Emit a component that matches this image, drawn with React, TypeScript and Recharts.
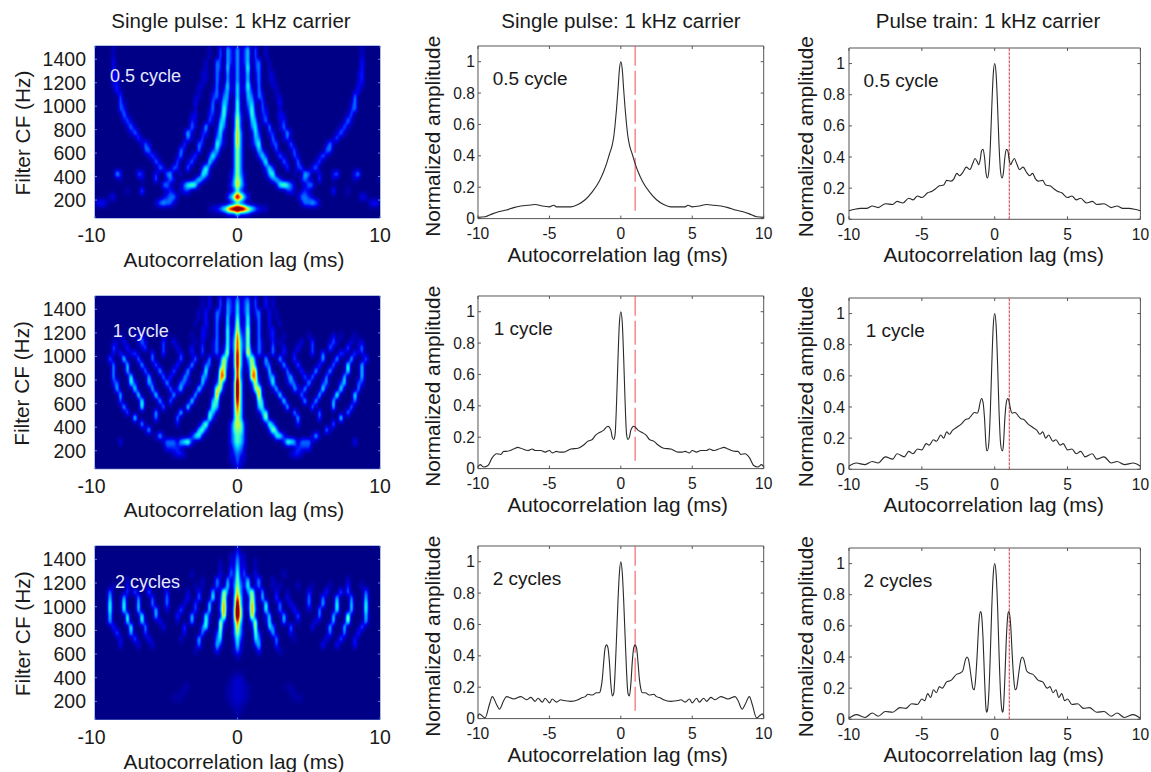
import React from "react";
import { LineChart, Line, ScatterChart, Scatter, XAxis, YAxis, ReferenceLine, ReferenceDot, ReferenceArea, Label } from "recharts";

const FONT = "'Liberation Sans', Arial, sans-serif";

const TITLES = ["Single pulse: 1 kHz carrier", "Single pulse: 1 kHz carrier", "Pulse train: 1 kHz carrier"];
const CYCLES = ["0.5 cycle", "1 cycle", "2 cycles"];
const X_LABEL = "Autocorrelation lag (ms)";
const HEAT_XTICKS = [-10, 0, 10];
const HEAT_YTICKS = [200, 400, 600, 800, 1000, 1200, 1400];
const LINE_XTICKS = [-10, -5, 0, 5, 10];
const LINE_YTICKS = [0, 0.2, 0.4, 0.6, 0.8, 1];

// Filter CF of each heatmap row, and digit rows covering lag 0..10 ms in 0.25 ms steps
const CF_ROWS = [1475,1425,1375,1325,1275,1225,1175,1125,1075,1025,975,925,875,825,775,725,675,625,575,525,475,425,375,325,275,225,175,125,75];

const HEAT_05 = [
"41240 30010 00000 00000 00000 00000 00000 10000 0",
"41240 30010 00000 00000 00000 00000 00000 10000 0",
"41240 23001 00000 00000 00000 00000 00000 20000 0",
"41150 23001 00000 00000 00000 00000 00000 20000 0",
"41140 13001 10000 00000 00000 00000 00001 20000 0",
"41140 13001 10000 00000 00000 00000 00001 20000 0",
"51151 03000 11000 00000 00000 00000 00002 10000 0",
"51142 03100 01000 00000 00000 00000 00012 00000 0",
"51043 03200 01100 00000 00000 00000 00030 00000 0",
"61034 10300 00200 00000 00000 00000 00130 00000 0",
"61025 10310 00100 00000 00000 00000 00230 00000 0",
"62015 20220 00210 00000 00000 00000 01300 00000 0",
"72004 40130 00120 00000 00000 00000 13100 00000 0",
"72003 51004 00130 00000 00000 00001 31000 00000 0",
"73001 52002 20014 10000 00000 00013 10000 00000 0",
"73001 43000 30013 00000 00000 00130 00000 00000 0",
"73001 35000 23000 30000 00000 13100 00000 00000 0",
"63000 14200 03000 13000 00000 33000 00000 00000 0",
"63000 02520 00310 03100 00013 10000 00000 00000 0",
"63000 00250 00031 00300 00130 00000 00000 00000 0",
"63000 00025 20003 00230 02300 00000 00000 00000 0",
"63100 00014 50000 01004 30020 00230 00024 00000 0",
"64100 00001 35200 00023 10030 00100 00010 00000 1",
"74200 00000 01565 31001 33000 00000 00000 00000 0",
"52100 00000 00002 21012 10000 00300 01000 00000 0",
"97420 00000 00000 00133 21000 00000 00000 21000 0",
"42100 00000 00000 00013 34310 00000 00000 00122 1",
"aa975 32110 00000 00000 00000 00000 00000 00000 0",
"41110 00000 00000 00000 00000 00000 00000 00000 0",
];

const HEAT_1 = [
"41230 30020 10000 00000 00000 00000 00000 00000 0",
"51240 30020 10000 00000 00000 00000 00000 00000 0",
"51240 23002 01000 00000 00000 00000 00000 00000 0",
"61150 13002 01000 00000 00000 00000 00000 00000 0",
"71150 03002 00100 00000 00000 00000 00000 00000 0",
"72160 03001 20000 00000 00000 00000 00000 00000 0",
"83160 03001 20010 00000 10000 00201 00010 00000 0",
"84160 03100 20100 00020 03000 01310 00201 10000 0",
"84161 03100 30020 00200 03000 03100 03001 30000 0",
"94072 03100 30020 02000 03003 00003 20030 20000 0",
"94036 20040 00400 03000 00004 00040 00500 03000 0",
"94026 30033 00040 00300 00030 00400 05000 40000 0",
"93016 70005 00004 00030 00400 04000 05000 40000 0",
"93007 71003 40002 40003 04000 40000 50000 40000 0",
"a4002 72001 50001 33000 40002 40002 50003 20000 0",
"a4001 66100 15000 04204 00005 00005 00004 00000 0",
"a4000 17100 00500 00040 00050 00060 00050 00000 0",
"94000 05400 00050 00004 00400 00500 00030 00000 0",
"84000 04500 00005 00000 04000 00500 00400 00000 0",
"74000 01450 00000 05000 00040 00000 04000 00000 0",
"64000 00260 00000 00400 00030 00005 00000 00000 0",
"65200 00016 30000 00200 00000 00400 00000 00000 0",
"55200 00002 64000 00000 00000 41000 00000 00000 0",
"54200 00000 15520 00000 01410 00000 00000 00000 0",
"54200 00000 00026 54133 31000 00000 00020 00000 0",
"43100 00000 00000 01222 20000 00000 00000 00000 0",
"32100 00000 00000 12210 00000 00000 00000 00000 0",
"31100 00000 00000 00000 00000 00000 00000 00000 0",
"21000 00000 00000 00000 00000 00000 00000 00000 0",
];

const HEAT_2 = [
"20000 00000 00000 00000 00000 00000 00000 00000 0",
"31100 00000 00000 00000 00000 00000 00000 00000 0",
"41100 10000 00000 00000 00000 00000 00000 00000 0",
"51200 10000 00000 00000 00000 00000 00000 00000 0",
"61300 20000 00010 00000 00000 00000 00000 00000 0",
"62140 13000 10000 00000 00000 00000 01000 00000 0",
"63150 13000 10100 00100 01000 01000 02000 10000 0",
"73036 10400 02001 00000 20000 30003 03000 03000 0",
"84016 20500 03002 00000 30003 00040 00400 04000 0",
"a4017 20050 00300 20000 30004 00050 00500 05000 0",
"a5017 30050 00300 03000 10040 00050 00500 05000 0",
"a5007 10015 00040 00300 00040 00500 06000 04000 0",
"84002 70015 00040 00100 00200 00500 06000 04000 0",
"73001 70005 30000 30000 02000 04000 50000 30000 0",
"63000 62000 40000 20000 00000 03000 40003 00000 0",
"52000 53000 04000 01000 00000 20003 00020 00000 0",
"51000 24000 03000 00000 00002 00020 00020 00000 0",
"31000 02000 00100 00000 00000 00000 00000 00000 0",
"10000 00000 00000 00000 00000 00000 00000 00000 0",
"00000 00000 00000 00000 00000 00000 00000 00000 0",
"00000 00000 00000 00000 00000 00000 00000 00000 0",
"hh000 00000 00000 00000 00000 00000 00000 00000 0",
"11h00 00000 00000 00000 00000 00000 00000 00000 0",
"11hh0 00000 0000h h0000 00000 00000 00000 00000 0",
"11hh0 00000 00000 hh000 00000 00000 00000 00000 0",
"11hh0 00000 00000 0hhh0 00000 00000 00000 00000 0",
"1hh00 00000 00000 00000 00000 00000 00000 00000 0",
"hh000 00000 00000 00000 00000 00000 00000 00000 0",
"h0000 00000 00000 00000 00000 00000 00000 00000 0",
];

const SP05_LAG = [0,.1,.2,.3,.4,.5,.6,.8,1,1.2,1.5,2,2.5,3,3.5,4,4.5,4.7,5,5.5,6,6.5,7,7.5,8,8.5,9,9.5,10];
const SP05_VAL = [1,.95,.82,.7,.6,.52,.47,.41,.35,.3,.24,.17,.12,.09,.075,.075,.075,.085,.075,.08,.09,.085,.08,.07,.055,.045,.03,.012,.008];
const SP1_LAG = [0,.1,.2,.3,.4,.5,.6,.7,.9,1,1.2,1.5,1.8,2,2.3,2.6,3,3.5,4,4.3,4.5,4.8,5,5.3,5.6,6,6.2,6.5,7,7.2,7.5,8,8.2,8.4,8.7,9,9.3,9.6,9.85,10];
const SP1_VAL = [1,.93,.7,.42,.22,.185,.2,.245,.27,.265,.245,.23,.21,.185,.175,.15,.13,.125,.105,.105,.11,.1,.115,.105,.115,.115,.125,.115,.13,.135,.125,.11,.11,.09,.095,.07,.02,.01,.025,.01];
const SP2_LAG = [0,.1,.2,.3,.4,.5,.6,.7,.8,.9,1,1.1,1.2,1.3,1.4,1.5,1.7,2,2.3,2.5,2.8,3,3.5,4,4.2,4.5,4.8,5,5.3,5.5,5.8,6,6.3,6.6,7,7.5,8,8.2,8.5,8.7,9,9.2,9.5,9.8,9.9,10];
const SP2_VAL = [1,.93,.75,.52,.3,.16,.145,.22,.36,.45,.47,.45,.36,.25,.19,.165,.165,.15,.155,.14,.13,.12,.11,.115,.12,.105,.125,.1,.13,.105,.13,.11,.135,.12,.14,.125,.14,.115,.06,.09,.14,.09,.005,.025,.03,.015];
const PT05_LAG = [0,.1,.2,.3,.4,.5,.6,.7,.8,.9,1,1.1,1.2,1.35,1.5,1.7,1.95,2.2,2.4,2.6,2.8,3,3.3,3.5,3.8,4,4.3,4.6,5,5.3,5.6,5.9,6.3,6.7,7,7.5,8,8.4,8.8,9.2,9.6,10];
const PT05_VAL = [1,.93,.72,.47,.31,.265,.3,.4,.45,.44,.38,.35,.37,.39,.36,.32,.335,.3,.28,.295,.26,.245,.25,.22,.215,.2,.18,.17,.14,.15,.125,.135,.105,.115,.095,.1,.075,.085,.07,.07,.065,.055];
const PT1_LAG = [0,.1,.2,.3,.4,.5,.55,.6,.7,.8,.9,1,1.1,1.2,1.4,1.6,1.8,2,2.3,2.6,2.9,3.1,3.3,3.5,3.7,4,4.2,4.5,4.7,5,5.3,5.6,5.9,6.2,6.7,7,7.5,8,8.4,8.9,9.5,10];
const PT1_VAL = [1,.92,.67,.37,.17,.12,.12,.16,.33,.43,.455,.43,.38,.36,.365,.345,.325,.32,.29,.27,.25,.225,.24,.2,.22,.18,.19,.155,.165,.125,.13,.1,.115,.08,.1,.065,.08,.04,.05,.03,.04,.02];
const PT2_LAG = [0,.1,.2,.3,.4,.5,.55,.6,.7,.8,.9,.95,1,1.1,1.2,1.3,1.4,1.5,1.6,1.8,1.9,2,2.2,2.4,2.6,3,3.3,3.6,3.8,4,4.2,4.4,4.6,4.8,5,5.3,5.7,6.1,6.5,7,7.5,8,8.4,8.9,9.5,10];
const PT2_VAL = [1,.93,.72,.42,.17,.055,.045,.07,.27,.52,.67,.69,.69,.6,.42,.27,.19,.2,.26,.385,.4,.385,.31,.295,.29,.25,.24,.2,.21,.17,.19,.14,.165,.12,.13,.095,.1,.07,.075,.045,.05,.02,.04,.012,.03,.005];

const LINE_PANELS = [
  [[SP05_LAG, SP05_VAL], [SP1_LAG, SP1_VAL], [SP2_LAG, SP2_VAL]],
  [[PT05_LAG, PT05_VAL], [PT1_LAG, PT1_VAL], [PT2_LAG, PT2_VAL]],
];
const HEATS = [HEAT_05, HEAT_1, HEAT_2];

// the measured curves are symmetric about lag 0: read one side, show both
const mirrorRows = (lags: number[], vals: number[]) => {
  const right = lags.map((l, i) => ({ lag: l, amp: vals[i] }));
  const left = right.slice(1).reverse().map((p) => ({ lag: -p.lag, amp: p.amp }));
  return [...left, ...right];
};

// Colour map used by the SVG filter: grey level of a cell -> jet colour
const STOPS: [number, number, number][] = [[0,0,136],[0,0,190],[0,0,240],[0,70,255],[0,140,255],[0,215,255],[70,255,190],[190,255,70],[255,190,0],[255,50,0],[150,0,0]];
const TOP_GREY = 0.78;
const tableFor = (k: number) => {
  const N = 60;
  const out: string[] = [];
  for (let i = 0; i <= N; i++) {
    const g = Math.min((i / N) / TOP_GREY, 1) * 10;
    const a = Math.min(Math.floor(g), 9);
    const t = g - a;
    out.push(((STOPS[a][k] + (STOPS[a + 1][k] - STOPS[a][k]) * t) / 255).toFixed(3));
  }
  return out.join(" ");
};
const grey = (v: number) => {
  const c = Math.round((v / 10) * 255);
  return `rgb(${c},${c},${c})`;
};

const heatCells = (rows: string[]) => {
  const out: { lag: number; cf: number; v: number; r: number }[] = [];
  rows.forEach((s, r) => {
    const chars = s.replace(/ /g, "").split("");
    chars.forEach((ch, c) => {
      const v = ch === "h" ? 0.5 : parseInt(ch, 36);
      out.push({ lag: c * 0.25, cf: CF_ROWS[r], v, r });
      if (c > 0) out.push({ lag: -c * 0.25, cf: CF_ROWS[r], v, r });
    });
  });
  return out;
};

const M = { left: 95, top: 46, right: 25, bottom: 54 };
const MARGIN = { left: M.left - 1, top: M.top, right: M.right, bottom: M.bottom - 1 };
const TXT = "#1a1a1a";
const AXC = "#555";

function makeTicks(o: { W: number; H: number; fs: number; tickLen: number; color: string; xDy: number; yDx: number; firstDx?: number }) {
  const { W, H, fs, tickLen, color, xDy, yDx, firstDx = 0 } = o;
  const L = M.left, T = M.top, B = M.top + H, R = M.left + W;
  const xTick = (p: any) => (
    <g>
      <line x1={p.x} x2={p.x} y1={B} y2={B - tickLen} stroke={color} />
      <line x1={p.x} x2={p.x} y1={T} y2={T + tickLen} stroke={color} />
      <text x={p.x + (p.payload.value === -10 ? firstDx : 0)} y={B + xDy} textAnchor="middle" dominantBaseline="central" fontSize={fs} fontFamily={FONT} fill={TXT}>{String(p.payload.value)}</text>
    </g>
  );
  const yTick = (p: any) => (
    <g>
      <line x1={L} x2={L + tickLen} y1={p.y} y2={p.y} stroke={color} />
      <line x1={R} x2={R - tickLen} y1={p.y} y2={p.y} stroke={color} />
      <text x={L - yDx} y={p.y} textAnchor="end" dominantBaseline="central" fontSize={fs} fontFamily={FONT} fill={TXT}>{String(p.payload.value)}</text>
    </g>
  );
  return { xTick, yTick };
}

const axisText = (text: string, x: number, y: number, rotate = false) => () => (
  <text x={x} y={y} textAnchor="middle" dominantBaseline="central" fontSize={20.8} fontFamily={FONT} fill={TXT}
    transform={rotate ? `rotate(-90 ${x} ${y})` : undefined}>{text}</text>
);

function HeatPanel({ rows, x0, y0, x1, y1, cycle, note, labelY, yLabelY }: any) {
  const W = x1 - x0, H = y1 - y0;
  const { xTick, yTick } = makeTicks({ W, H, fs: 19.5, tickLen: 2, color: "#5f7fc8", xDy: 17, yDx: 9, firstDx: -3.5 });
  const data = heatCells(rows);
  const DOM: [number, number] = [47, 1513];
  const cw = W / 80, ch = (H / (DOM[1] - DOM[0])) * 50;
  const shape = (p: any) => {
    let xa = Math.max(p.cx - cw / 2, M.left), xb = Math.min(p.cx + cw / 2 + 0.6, M.left + W);
    let ya = p.cy - ch / 2, yb = p.cy + ch / 2 + 0.6;
    if (p.payload.r === 0) ya = M.top;
    if (p.payload.r === CF_ROWS.length - 1) yb = M.top + H;
    yb = Math.min(yb, M.top + H);
    return <rect x={xa} y={ya} width={xb - xa} height={yb - ya} fill={grey(p.payload.v)} shapeRendering="crispEdges" />;
  };
  return (
    <div className="heat" style={{ position: "absolute", left: x0 - M.left, top: y0 - M.top }}>
      <ScatterChart width={W + M.left + M.right} height={H + M.top + M.bottom} margin={MARGIN}>
        <XAxis type="number" dataKey="lag" domain={[-10, 10]} ticks={HEAT_XTICKS} interval={0} height={1} axisLine={false} tickLine={false} tick={xTick}>
          <Label content={axisText(X_LABEL, M.left + 139, M.top + H + labelY)} />
        </XAxis>
        <YAxis type="number" dataKey="cf" domain={DOM} ticks={HEAT_YTICKS} interval={0} width={1} axisLine={false} tickLine={false} tick={yTick}>
          <Label content={axisText("Filter CF (Hz)", 22 - x0 + M.left, yLabelY - y0 + M.top, true)} />
        </YAxis>
        <Scatter data={data} shape={shape} isAnimationActive={false} />
        <ReferenceArea x1={-10} x2={10} y1={DOM[0]} y2={DOM[1]} fill="none" stroke="#5f7fc8" strokeWidth={1} />
        <ReferenceDot x={note[0]} y={note[1]} r={0} fill="none" stroke="none" label={{ value: cycle, position: "right", offset: 0, fill: "#e4e8ff", fontSize: 18, fontFamily: FONT }} />
      </ScatterChart>
    </div>
  );
}

function LinePanel({ lags, vals, x0, y0, x1, y1, cycle, note, kind, yLabelX, yLabelY, labelX, labelY, xDy, yDx }: any) {
  const W = x1 - x0, H = y1 - y0;
  const { xTick, yTick } = makeTicks({ W, H, fs: 15.6, tickLen: 3, color: AXC, xDy, yDx });
  const rows = mirrorRows(lags, vals);
  return (
    <div style={{ position: "absolute", left: x0 - M.left, top: y0 - M.top }}>
      <LineChart width={W + M.left + M.right} height={H + M.top + M.bottom} margin={MARGIN} data={rows}>
        <XAxis type="number" dataKey="lag" domain={[-10, 10]} ticks={LINE_XTICKS} interval={0} height={1} axisLine={false} tickLine={false} tick={xTick}>
          <Label content={axisText(X_LABEL, labelX - x0 + M.left, M.top + H + labelY)} />
        </XAxis>
        <YAxis type="number" domain={[0, 1.1]} ticks={LINE_YTICKS} interval={0} width={1} axisLine={false} tickLine={false} tick={yTick}>
          <Label content={axisText("Normalized amplitude", yLabelX - x0 + M.left, yLabelY - y0 + M.top, true)} />
        </YAxis>
        <ReferenceArea x1={-10} x2={10} y1={0} y2={1.1} fill="none" stroke={AXC} strokeWidth={1} />
        {kind === "single" ? (
          <ReferenceLine segment={[{ x: 1, y: 0.05 }, { x: 1, y: 1.1 }]} stroke="#ee4a55" strokeWidth={1} strokeDasharray="24 5" />
        ) : (
          <ReferenceLine x={1} stroke="#c8384a" strokeWidth={1} strokeDasharray="3 1" />
        )}
        <Line dataKey="amp" type="monotoneX" dot={false} stroke="#2a2a2a" strokeWidth={1.1} isAnimationActive={false} />
        <ReferenceDot x={note[0]} y={note[1]} r={0} fill="none" stroke="none" label={{ value: cycle, position: "right", offset: 0, fill: TXT, fontSize: 19, fontFamily: FONT }} />
      </LineChart>
    </div>
  );
}

const Title = ({ text, cx }: { text: string; cx: number }) => (
  <div style={{ position: "absolute", left: cx - 150, width: 300, top: 9, textAlign: "center", fontFamily: FONT, fontSize: 20.5, lineHeight: "24px", color: TXT, whiteSpace: "nowrap" }}>{text}</div>
);

const HEAT_Y = [[46, 218], [295.5, 468.3], [545.5, 719]];
const HEAT_NOTE = [[-8.95, 1264], [-8.75, 1217], [-8.6, 1210]];
const HEAT_LABEL_DY = [41, 41, 42];
const COL2_Y = [[45.7, 218.3], [295.7, 468.3], [545.7, 718.3]];
const COL2_NOTE = [[-8.97, 0.894], [-8.9, 0.896], [-8.97, 0.894]];
const COL3_Y = [[48, 219.3], [298, 469.3], [548, 719.3]];
const COL3_NOTE = [[-9, 0.894], [-8.85, 0.894], [-9, 0.894]];

export default function App() {
  return (
    <div style={{ position: "absolute", left: 0, top: 0, width: 1151, height: 772, background: "#fff", overflow: "hidden" }}>
      <style>{`.heat .recharts-scatter{filter:url(#jetmap);clip-path:inset(0)}`}</style>
      <svg width="0" height="0" style={{ position: "absolute" }}>
        <filter id="jetmap" x="-5%" y="-5%" width="110%" height="110%" colorInterpolationFilters="sRGB">
          <feFlood floodColor="#000" result="bg" />
          <feMerge result="m"><feMergeNode in="bg" /><feMergeNode in="SourceGraphic" /></feMerge>
          <feGaussianBlur in="m" stdDeviation="1.5 2.6" />
          <feComponentTransfer>
            <feFuncR type="table" tableValues={tableFor(0)} />
            <feFuncG type="table" tableValues={tableFor(1)} />
            <feFuncB type="table" tableValues={tableFor(2)} />
          </feComponentTransfer>
        </filter>
      </svg>
      <Title text={TITLES[0]} cx={231} />
      <Title text={TITLES[1]} cx={621} />
      <Title text={TITLES[2]} cx={988} />
      {HEATS.map((rows, i) => (
        <HeatPanel key={i} rows={rows} x0={95} x1={380} y0={HEAT_Y[i][0]} y1={HEAT_Y[i][1]} cycle={CYCLES[i]} note={HEAT_NOTE[i]}
          labelY={HEAT_LABEL_DY[i]} yLabelY={(HEAT_Y[i][0] + HEAT_Y[i][1]) / 2 + 1} />
      ))}
      {LINE_PANELS[0].map(([lags, vals], i) => (
        <LinePanel key={i} lags={lags} vals={vals} kind="single" x0={478.3} x1={764} y0={COL2_Y[i][0]} y1={COL2_Y[i][1]} cycle={CYCLES[i]} note={COL2_NOTE[i]}
          yLabelX={433} yLabelY={(COL2_Y[i][0] + COL2_Y[i][1]) / 2 + 4} labelX={618} labelY={36} xDy={15} yDx={3} />
      ))}
      {LINE_PANELS[1].map(([lags, vals], i) => (
        <LinePanel key={i} lags={lags} vals={vals} kind="train" x0={849.3} x1={1140.7} y0={COL3_Y[i][0]} y1={COL3_Y[i][1]} cycle={CYCLES[i]} note={COL3_NOTE[i]}
          yLabelX={806} yLabelY={(COL3_Y[i][0] + COL3_Y[i][1]) / 2 + 3} labelX={994} labelY={35} xDy={15} yDx={4} />
      ))}
    </div>
  );
}
